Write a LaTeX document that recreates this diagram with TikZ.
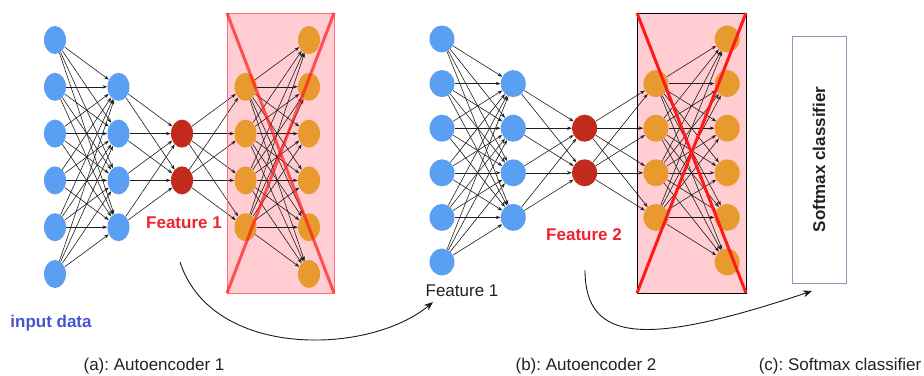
\documentclass[tikz,border=0pt]{standalone}
\usepackage{fontspec}
\setmainfont{Liberation Sans}
\usetikzlibrary{arrows.meta,shapes.geometric}
\definecolor{nodeblue}{HTML}{5A9FF2}
\definecolor{nodered}{HTML}{C22A1C}
\definecolor{nodeorange}{HTML}{E89A2E}
\definecolor{dropfill}{HTML}{FFCDD2}
\definecolor{dropedge}{HTML}{FF6E7C}
\definecolor{crossred}{HTML}{FF1A1A}
\definecolor{featred}{HTML}{EE2430}
\definecolor{inputblue}{HTML}{4455D0}
\definecolor{boxedge}{HTML}{9494B8}
\definecolor{textgray}{HTML}{222222}
\frenchspacing

\begin{document}
\begin{tikzpicture}[x=1pt,y=-1pt,
  unit/.style={ellipse,inner sep=0pt,draw=none},
  link/.style={draw=black!88,line width=0.6pt,-{Stealth[length=4.8pt,width=3.4pt]}},
  flow/.style={draw=black!90,line width=0.9pt,-{Stealth[length=9pt,width=7pt]}},
  caption/.style={font=\fontsize{17}{20}\selectfont,text=textgray},
  feat/.style={font=\fontsize{17}{20}\selectfont\bfseries,text=featred}]
\useasboundingbox (0,0) rectangle (924,375);

% decoder halves that are thrown away (pink backgrounds)
\coordinate (d1nw) at (227,13);  \coordinate (d1se) at (334,293);
\coordinate (d2nw) at (637,13);  \coordinate (d2se) at (746,293);
\fill[dropfill] (d1nw) rectangle (d1se);
\fill[dropfill] (d2nw) rectangle (d2se);

% two autoencoders: prefix / first x / layer gap / top y / row gap / unit width / unit height
\foreach \p/\x/\dx/\y/\dy/\w/\h in {a/55/63.5/40/46.8/22/28, b/442/71.3/39/44.6/25/27}{
  \tikzset{u/.style={unit,minimum width=\w pt,minimum height=\h pt}}
  % layer 1 and 5: six units, layer 2 and 4: four units, layer 3: two units
  \foreach \i in {1,...,6}{
    \node[u,fill=nodeblue]   (\p1-\i) at (\x,{\y+(\i-1)*\dy}) {};
    \node[u,fill=nodeorange] (\p5-\i) at ({\x+4*\dx},{\y+(\i-1)*\dy}) {};
  }
  \foreach \i in {2,...,5}{
    \node[u,fill=nodeblue]   (\p2-\i) at ({\x+\dx},{\y+(\i-1)*\dy}) {};
    \node[u,fill=nodeorange] (\p4-\i) at ({\x+3*\dx},{\y+(\i-1)*\dy}) {};
  }
  \foreach \i in {3,4}{
    \node[u,fill=nodered] (\p3-\i) at ({\x+2*\dx},{\y+(\i-1)*\dy}) {};
  }
  % fully connected weights
  \foreach \i in {1,...,6}{\foreach \j in {2,...,5}{\path[link] (\p1-\i) -- (\p2-\j);}}
  \foreach \i in {2,...,5}{\foreach \j in {3,4}{\path[link] (\p2-\i) -- (\p3-\j);}}
  \foreach \i in {3,4}{\foreach \j in {2,...,5}{\path[link] (\p3-\i) -- (\p4-\j);}}
  \foreach \i in {2,...,5}{\foreach \j in {1,...,6}{\path[link] (\p4-\i) -- (\p5-\j);}}
}

% crossed-out decoders
\draw[dropedge,line width=0.9pt] (d1nw) rectangle (d1se);
\draw[crossred,opacity=0.7,line width=3pt] (d1nw) -- (d1se);
\draw[crossred,opacity=0.7,line width=3pt] (d1nw -| d1se) -- (d1nw |- d1se);
\draw[black,line width=1pt] (d2nw) rectangle (d2se);
\draw[crossred,line width=3pt] (d2nw) -- (d2se);
\draw[crossred,line width=3pt] (d2nw -| d2se) -- (d2nw |- d2se);

% softmax classifier
\node[draw=boxedge,line width=0.9pt,minimum width=54pt,minimum height=247pt,inner sep=0pt] (soft) at (819,159.5) {};
\node[rotate=90,font=\fontsize{17}{20}\selectfont\bfseries,text=textgray] (softlabel) at (soft.center) {Softmax classifier};

% labels
\node[feat] (f1) at (184,223) {Feature 1};
\node[feat] (f2) at (584,235) {Feature 2};
\node[caption] (f1in) at (462,291) {Feature 1};
\node[font=\fontsize{17}{20}\selectfont\bfseries,text=inputblue] (input) at (51,323) {input data};
\node[caption] (capa) at (154,366) {(a): Autoencoder 1};
\node[caption] (capb) at (586,366) {(b): Autoencoder 2};
\node[caption] (capc) at (840,366) {(c): Softmax classifier};

% features passed on to the next stage
\coordinate (s1) at (180,262); \coordinate (e1) at (433,302);
\coordinate (s2) at (585,270); \coordinate (e2) at (812,291);
\path[flow] (s1) .. controls (212,360) and (370,355) .. (e1);
\path[flow] (s2) .. controls (585,345) and (650,345) .. (e2);
\end{tikzpicture}
\end{document}
